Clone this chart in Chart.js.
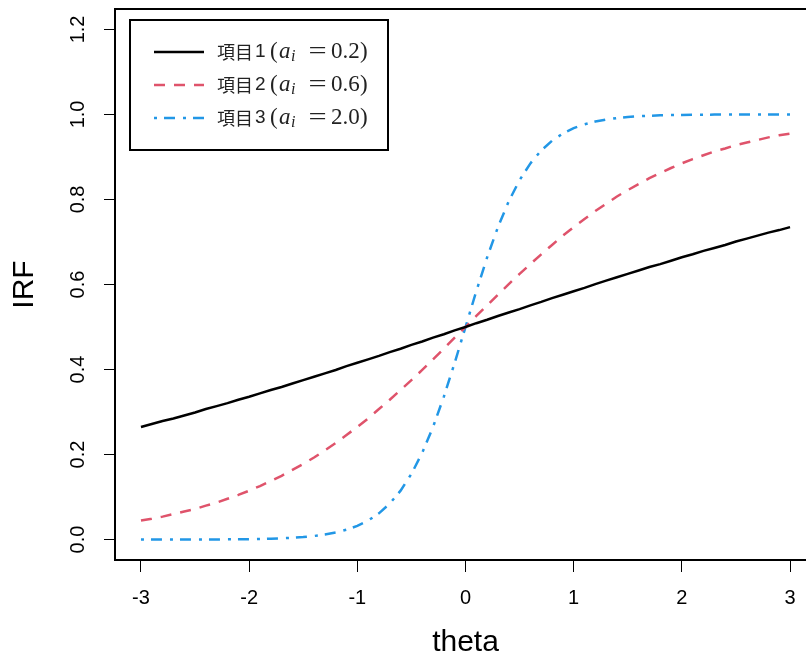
<!DOCTYPE html>
<html><head><meta charset="utf-8">
<script src="https://cdn.jsdelivr.net/npm/chart.js@4.4.0/dist/chart.umd.min.js"></script>
<style>
html,body{margin:0;padding:0;background:#fff;overflow:hidden}
#wrap{width:806px;height:664px;overflow:hidden;position:relative;background:#fff}
canvas{display:block}
</style></head><body>
<div id="wrap"><canvas id="c" width="830" height="664"></canvas></div>
<script>
const theta = [-3.0,-2.9,-2.8,-2.7,-2.6,-2.5,-2.4,-2.3,-2.2,-2.1,-2.0,-1.9,-1.8,-1.7,-1.6,-1.5,-1.4,-1.3,-1.2,-1.1,-1.0,-0.9,-0.8,-0.7,-0.6,-0.5,-0.4,-0.3,-0.2,-0.1,0.0,0.1,0.2,0.3,0.4,0.5,0.6,0.7,0.8,0.9,1.0,1.1,1.2,1.3,1.4,1.5,1.6,1.7,1.8,1.9,2.0,2.1,2.2,2.3,2.4,2.5,2.6,2.7,2.8,2.9,3.0];

const item1 = [0.265,0.272,0.279,0.285,0.292,0.299,0.307,0.314,0.321,0.329,0.336,0.344,0.352,0.359,0.367,0.375,0.383,0.391,0.399,0.408,0.416,0.424,0.432,0.441,0.449,0.458,0.466,0.475,0.483,0.492,0.500,0.509,0.517,0.526,0.534,0.542,0.551,0.559,0.568,0.576,0.584,0.592,0.601,0.609,0.617,0.625,0.633,0.641,0.648,0.656,0.664,0.671,0.679,0.686,0.693,0.701,0.708,0.715,0.722,0.728,0.735];

const item2 = [0.045,0.049,0.054,0.060,0.066,0.072,0.080,0.087,0.096,0.105,0.115,0.126,0.138,0.150,0.164,0.178,0.193,0.210,0.227,0.246,0.265,0.285,0.307,0.329,0.352,0.375,0.399,0.424,0.449,0.475,0.500,0.526,0.551,0.576,0.601,0.625,0.648,0.671,0.693,0.715,0.735,0.754,0.773,0.790,0.807,0.822,0.836,0.850,0.862,0.874,0.885,0.895,0.904,0.913,0.920,0.928,0.934,0.940,0.946,0.951,0.955];

const item3 = [0.00004,0.00005,0.00007,0.0001,0.00015,0.0002,0.0003,0.0004,0.0006,0.0008,0.0011,0.0016,0.0022,0.0031,0.0043,0.0061,0.0085,0.0119,0.0166,0.0232,0.0323,0.0448,0.0618,0.0847,0.1151,0.1545,0.2042,0.2650,0.3363,0.4158,0.5000,0.5842,0.6637,0.7350,0.7958,0.8455,0.8849,0.9153,0.9382,0.9552,0.9677,0.9768,0.9834,0.9881,0.9915,0.9939,0.9957,0.9969,0.9978,0.9984,0.9989,0.9992,0.9994,0.9996,0.9997,0.9998,0.9998,0.9999,0.9999,0.9999,1.0000];

const xTicks = [-3,-2,-1,0,1,2,3];
const yTicks = [0,0.2,0.4,0.6,0.8,1.0,1.2];
const yTickLabels = ['0.0','0.2','0.4','0.6','0.8','1.0','1.2'];
const itemNames = ['項目 1','項目 2','項目 3'];
const aValues = ['0.2','0.6','2.0'];
const xTitle = 'theta';
const yTitle = 'IRF';

const colors = ['#000000','#DF536B','#2297E6'];
const dashes = [[],[11,9],[3,7,11,8]];
const series = [item1,item2,item3];

const overlay = {
  id:'overlay',
  afterDraw(chart){
    const ctx = chart.ctx;
    const a = chart.chartArea;
    const ys = chart.scales.y;
    ctx.save();
    ctx.strokeStyle = '#000';
    ctx.lineWidth = 2;
    ctx.setLineDash([]);
    ctx.strokeRect(a.left, a.top, a.right - a.left, a.bottom - a.top);
    ctx.fillStyle = '#000';
    ctx.font = "20px 'Liberation Sans', Arial, sans-serif";
    ctx.textAlign = 'center';
    ctx.textBaseline = 'middle';
    yTicks.forEach((v,i)=>{
      const py = ys.getPixelForValue(v);
      ctx.save();
      ctx.translate(78, py);
      ctx.rotate(-Math.PI/2);
      ctx.fillText(yTickLabels[i], 0, 0);
      ctx.restore();
    });
    ctx.lineWidth = 2;
    ctx.strokeStyle = '#000';
    ctx.strokeRect(130, 20, 258, 130);
    const rows = [52, 85, 118];
    rows.forEach((cy, r)=>{
      ctx.save();
      ctx.strokeStyle = colors[r];
      ctx.lineWidth = 2.5;
      ctx.setLineDash(dashes[r]);
      ctx.beginPath();
      ctx.moveTo(154, cy);
      ctx.lineTo(204, cy);
      ctx.stroke();
      ctx.restore();
      const parts = itemNames[r].split(' ');
      ctx.fillStyle = '#222';
      ctx.textAlign = 'left';
      ctx.textBaseline = 'middle';
      ctx.font = "18px 'Noto Sans CJK SC', sans-serif";
      ctx.fillText(parts[0], 217, cy);
      ctx.font = "19px 'Liberation Sans', Arial, sans-serif";
      ctx.fillText(parts[1], 255, cy);
      ctx.font = "23px 'Liberation Serif', serif";
      ctx.fillText('(', 270, cy);
      ctx.font = "italic 23px 'Liberation Serif', serif";
      ctx.fillText('a', 279, cy);
      ctx.font = "italic 16px 'Liberation Serif', serif";
      ctx.fillText('i', 291, cy + 5);
      ctx.font = "23px 'Liberation Serif', serif";
      ctx.textAlign = 'center';
      ctx.save();
      ctx.translate(317.5, cy);
      ctx.scale(1.4, 1);
      ctx.fillText('=', 0, 0);
      ctx.restore();
      ctx.textAlign = 'left';
      ctx.fillText(aValues[r], 331, cy);
      ctx.fillText(')', 360, cy);
    });
    ctx.restore();
  }
};

Chart.defaults.font.family = "'Liberation Sans', Arial, sans-serif";

new Chart(document.getElementById('c').getContext('2d'), {
  type:'line',
  data:{
    datasets: series.map((s, k)=>({
      label: itemNames[k],
      data: theta.map((t,i)=>({x:t, y:s[i]})),
      borderColor: colors[k],
      borderWidth: 2.5,
      borderDash: dashes[k],
      pointRadius: 0,
      tension: 0,
      fill: false
    }))
  },
  options:{
    responsive:false,
    animation:false,
    devicePixelRatio:1,
    layout:{padding:{left:0, top:9, right:14, bottom:0}},
    plugins:{legend:{display:false}, tooltip:{enabled:false}},
    scales:{
      x:{
        type:'linear', min:-3.24, max:3.24, position:'bottom',
        afterBuildTicks:s=>{ s.ticks = xTicks.map(v=>({value:v})); },
        afterFit:s=>{ s.height = 104; },
        grid:{drawOnChartArea:false, drawTicks:true, tickLength:12, color:'#000', lineWidth:1},
        border:{display:false},
        ticks:{padding:14, color:'#000', font:{size:20}, maxRotation:0, autoSkip:false, callback:v=>String(v)},
        title:{display:true, text:xTitle, color:'#000', font:{size:30}, padding:{top:0, bottom:3}}
      },
      y:{
        type:'linear', min:-0.048, max:1.248, position:'left',
        afterBuildTicks:s=>{ s.ticks = yTicks.map(v=>({value:v})); },
        afterFit:s=>{ s.width = 115; },
        grid:{drawOnChartArea:false, drawTicks:true, tickLength:11, color:'#000', lineWidth:1},
        border:{display:false},
        ticks:{display:false},
        title:{display:true, text:yTitle, color:'#000', font:{size:30}, padding:{top:7, bottom:0}}
      }
    }
  },
  plugins:[overlay]
});
</script>
</body></html>
